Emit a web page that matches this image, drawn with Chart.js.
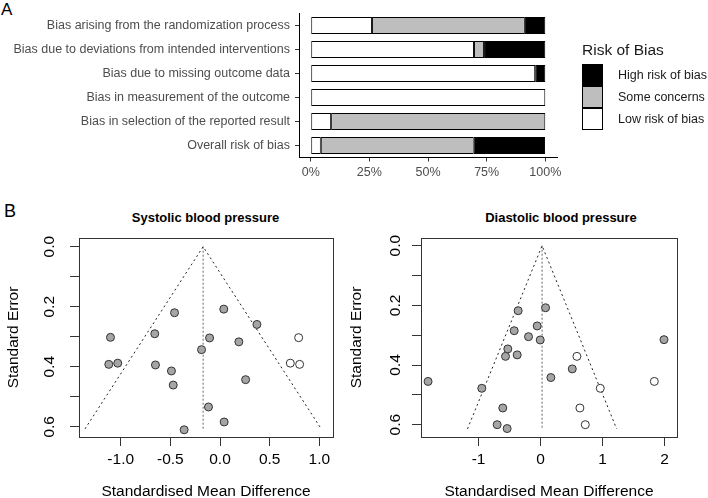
<!DOCTYPE html>
<html>
<head>
<meta charset="utf-8">
<script src="https://cdn.jsdelivr.net/npm/chart.js@4.4.1/dist/chart.umd.min.js"></script>
<style>
  html, body { margin: 0; padding: 0; background: #fff; overflow: hidden; }
  body { width: 708px; height: 498px; position: relative; font-family: "Liberation Sans", Arial, sans-serif; }
  canvas, .txt, .key { position: absolute; }
  .txt { white-space: nowrap; color: #000; }
  .ptitle { top: 211px; font-size: 13px; line-height: 13px; font-weight: bold; transform: translateX(-50%); }
  .key { width: 21px; height: 22px; box-sizing: border-box; border: 1px solid #000; }
  .keylab { font-size: 12.5px; line-height: 22px; color: #1a1a1a; }
</style>
</head>
<body>
<div class="txt" style="left:1px;top:1px;font-size:17px;line-height:17px;">A</div>
<div class="txt" style="left:4px;top:201.5px;font-size:18px;line-height:18px;">B</div>
<canvas id="rob" width="708" height="190" style="left:0;top:0"></canvas>
<div id="legend"></div>
<div class="txt ptitle" style="left:205.5px">Systolic blood pressure</div>
<div class="txt ptitle" style="left:561px">Diastolic blood pressure</div>
<canvas id="sbp" width="340" height="312" style="left:0;top:190px"></canvas>
<canvas id="dbp" width="368" height="312" style="left:340px;top:190px"></canvas>
<script>
// Panel A: risk of bias summary (percent of studies)
const domains = [
  "Bias arising from the randomization process",
  "Bias due to deviations from intended interventions",
  "Bias due to missing outcome data",
  "Bias in measurement of the outcome",
  "Bias in selection of the reported result",
  "Overall risk of bias"
];
const riskLevels = ["Low risk of bias", "Some concerns", "High risk of bias"];
const riskColors = ["#FFFFFF", "#BEBEBE", "#000000"];
const lowRisk = [26.1, 69.6, 95.7, 100, 8.7, 4.3];
const someConcerns = [65.2, 4.3, 0, 0, 91.3, 65.2];
const highRisk = [8.7, 26.1, 4.3, 0, 0, 30.4];
const pctTicks = [0, 25, 50, 75, 100];

// Panel B: funnel plots (observed studies and trim-and-fill studies)
const sbpObsSmd = [-0.458, 0.038, 0.372, -1.103, -0.657, -0.105, 0.19, -0.186, -1.12, -1.03, -0.65, -0.489, -0.471, 0.258, -0.116, 0.042, -0.361];
const sbpObsSe = [0.22, 0.208, 0.259, 0.302, 0.29, 0.304, 0.317, 0.343, 0.392, 0.388, 0.394, 0.414, 0.461, 0.443, 0.534, 0.584, 0.61];
const sbpFillSmd = [0.792, 0.708, 0.802];
const sbpFillSe = [0.303, 0.388, 0.392];
const sbpCenter = -0.17;
const sbpMaxSe = 0.607;
const sbpTicks = [-1, -0.5, 0, 0.5, 1];

const dbpObsSmd = [-0.361, 0.081, -0.054, -0.425, -0.194, -0.005, 1.992, -0.528, -0.565, -0.377, 0.512, 0.167, -1.815, -0.948, -0.609, -0.70, -0.539];
const dbpObsSe = [0.218, 0.208, 0.269, 0.285, 0.305, 0.316, 0.315, 0.346, 0.371, 0.366, 0.413, 0.442, 0.455, 0.478, 0.544, 0.60, 0.613];
const dbpFillSmd = [0.587, 1.836, 0.964, 0.635, 0.722];
const dbpFillSe = [0.371, 0.455, 0.478, 0.544, 0.60];
const dbpCenter = 0.025;
const dbpMaxSe = 0.614;
const dbpTicks = [-1, 0, 1, 2];

const seTicks = [0, 0.1, 0.2, 0.3, 0.4, 0.5, 0.6];
const seLabels = ["0.0", "", "0.2", "", "0.4", "", "0.6"];

Chart.defaults.font.family = '"Liberation Sans", Arial, sans-serif';
Chart.defaults.animation = false;
Chart.defaults.plugins.legend.display = false;
Chart.defaults.plugins.tooltip.enabled = false;

// legend for panel A, high risk on top
const legend = document.getElementById("legend");
legend.innerHTML = '<div class="txt" style="left:582px;top:41.6px;font-size:15.5px;line-height:16px;color:#1a1a1a">Risk of Bias</div>';
[2, 1, 0].forEach((k, i) => {
  const top = 64 + i * 22;
  legend.innerHTML += '<div class="key" style="left:582px;top:' + top + 'px;background:' + riskColors[k] + '"></div>' +
    '<div class="txt keylab" style="left:618px;top:' + top + 'px">' + riskLevels[k] + '</div>';
});

new Chart(document.getElementById("rob"), {
  type: "bar",
  data: {
    labels: domains,
    datasets: [lowRisk, someConcerns, highRisk].map((d, i) => ({
      label: riskLevels[i],
      data: d,
      backgroundColor: riskColors[i],
      borderColor: "#000",
      borderWidth: 1,
      borderSkipped: false,
      barPercentage: 0.7,
      categoryPercentage: 1
    }))
  },
  options: {
    indexAxis: "y",
    responsive: false,
    layout: { padding: { top: 13.5, right: 151, bottom: 0, left: 0 } },
    scales: {
      x: {
        stacked: true,
        min: -5,
        max: 105,
        afterBuildTicks: s => { s.ticks = pctTicks.map(v => ({ value: v })); },
        afterFit: s => { s.height = 32.5; },
        ticks: { callback: v => v + "%", color: "#4D4D4D", font: { size: 12.5 }, padding: 3.5 },
        grid: { drawOnChartArea: false, tickLength: 4, color: "#333" },
        border: { color: "#000", width: 1 }
      },
      y: {
        stacked: true,
        afterFit: s => { s.width = 299; },
        ticks: { color: "#4D4D4D", font: { size: 12.5 }, padding: 5 },
        grid: { drawOnChartArea: false, offset: false, tickLength: 4, color: "#333" },
        border: { color: "#000", width: 1 }
      }
    }
  }
});

// box round the plot region, like base R
const boxPlugin = {
  id: "box",
  afterDatasetsDraw(chart) {
    const { ctx, chartArea: a } = chart;
    ctx.save();
    ctx.strokeStyle = "#333";
    ctx.lineWidth = 1;
    ctx.strokeRect(Math.round(a.left) + 0.5, Math.round(a.top) + 0.5, Math.round(a.right - a.left), Math.round(a.bottom - a.top));
    ctx.restore();
  }
};

function funnel(id, o) {
  const c = o.center, m = o.maxSe;
  new Chart(document.getElementById(id), {
    type: "scatter",
    data: {
      datasets: [
        {
          data: o.obsX.map((x, i) => ({ x: x, y: o.obsSe[i] })),
          backgroundColor: "#A5A5A5", borderColor: "#333", borderWidth: 1, pointRadius: 4
        },
        {
          data: o.fillX.map((x, i) => ({ x: x, y: o.fillSe[i] })),
          backgroundColor: "#FFFFFF", borderColor: "#333", borderWidth: 1, pointRadius: 4
        },
        {
          type: "line",
          data: [{ x: c - 1.96 * m, y: m }, { x: c, y: 0 }, { x: c + 1.96 * m, y: m }],
          borderColor: "#222", borderWidth: 1, borderDash: [2, 3], pointRadius: 0, fill: false
        },
        {
          type: "line",
          data: [{ x: c, y: 0 }, { x: c, y: m }],
          borderColor: "#666", borderWidth: 1, borderDash: [2, 2], pointRadius: 0, fill: false
        }
      ]
    },
    options: {
      responsive: false,
      layout: { padding: { top: 48, right: o.padRight, bottom: 0, left: 0 } },
      scales: {
        x: {
          min: o.xMin, max: o.xMax,
          afterBuildTicks: s => { s.ticks = o.xTicks.map(v => ({ value: v })); },
          afterFit: s => { s.height = 65; },
          ticks: { callback: o.xFmt, color: "#000", font: { size: 15.5 }, padding: 4.5 },
          grid: { drawOnChartArea: false, tickLength: 9, color: "#333" },
          border: { display: false },
          title: { display: true, text: "Standardised Mean Difference", color: "#000", font: { size: 15.5 }, padding: { top: 0, bottom: 1.2 } }
        },
        y: {
          reverse: true,
          min: o.yMin, max: o.yMax,
          afterBuildTicks: s => { s.ticks = seTicks.map(v => ({ value: v })); },
          afterFit: s => { s.width = o.yWidth; },
          ticks: {
            callback: (v, i) => seLabels[i], color: "#000", font: { size: 15.5 },
            minRotation: 90, maxRotation: 90, crossAlign: "center", padding: o.yPad
          },
          grid: { drawOnChartArea: false, tickLength: 9, color: "#333" },
          border: { display: false },
          title: { display: true, text: "Standard Error", color: "#000", font: { size: 15.5 }, padding: { top: o.yTitlePad, bottom: 0 } }
        }
      }
    },
    plugins: [boxPlugin]
  });
}

funnel("sbp", {
  obsX: sbpObsSmd, obsSe: sbpObsSe, fillX: sbpFillSmd, fillSe: sbpFillSe,
  center: sbpCenter, maxSe: sbpMaxSe, xTicks: sbpTicks, xFmt: v => v.toFixed(1),
  xMin: -1.42, xMax: 1.138, yMin: -0.029, yMax: 0.634,
  padRight: 7, yWidth: 79, yPad: 9.5, yTitlePad: 4.2
});

funnel("dbp", {
  obsX: dbpObsSmd, obsSe: dbpObsSe, fillX: dbpFillSmd, fillSe: dbpFillSe,
  center: dbpCenter, maxSe: dbpMaxSe, xTicks: dbpTicks, xFmt: v => String(v),
  xMin: -1.929, xMax: 2.202, yMin: -0.0258, yMax: 0.6413,
  padRight: 31, yWidth: 81, yPad: 6, yTitlePad: 7.2
});
</script>
</body>
</html>
